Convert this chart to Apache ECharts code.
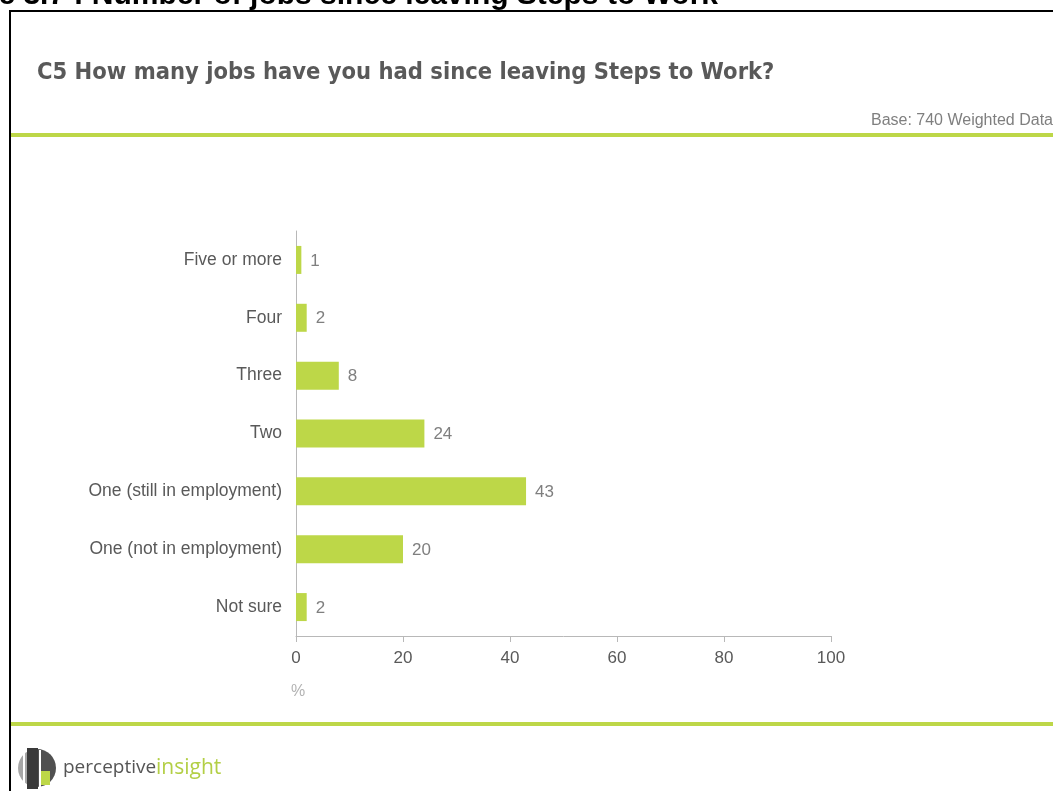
<!DOCTYPE html>
<html>
<head>
<meta charset="utf-8">
<script src="https://cdn.jsdelivr.net/npm/echarts@6/dist/echarts.min.js"></script>
<style>
  html, body { margin: 0; padding: 0; background: #fff; }
  #chart { width: 1053px; height: 791px; }
</style>
</head>
<body>
<div id="chart"></div>
<script>
// Answer categories, bottom to top as the value axis draws them
const categories = ['Not sure', 'One (not in employment)', 'One (still in employment)', 'Two', 'Three', 'Four', 'Five or more'];
// Share of respondents (%)
const values = [2, 20, 43, 24, 8, 2, 1];
// Percentage axis ticks
const xTicks = [0, 20, 40, 60, 80, 100];

const figureTitle = 'Figure 3.7 : Number of jobs since leaving Steps to Work';
const question = 'C5 How many jobs have you had since leaving Steps to Work?';
const baseNote = 'Base: 740 Weighted Data';

const GREEN = '#bdd748';
const FONT = '"Liberation Sans", Arial, sans-serif';
const chart = echarts.init(document.getElementById('chart'), null, { renderer: 'canvas' });

chart.setOption({
  animation: false,
  backgroundColor: '#ffffff',
  grid: { left: 296, right: 222, top: 231, bottom: 155, containLabel: false },
  xAxis: {
    type: 'value',
    min: xTicks[0],
    max: xTicks[xTicks.length - 1],
    interval: 20,
    name: '%',
    nameLocation: 'start',
    nameGap: 0,
    nameTextStyle: { color: '#b3b3b3', fontSize: 16, fontFamily: FONT, align: 'left', verticalAlign: 'top', padding: [48, 0, 0, -5] },
    axisLine: { show: true, lineStyle: { color: '#b8b8b8', width: 1 } },
    axisTick: { show: true, length: 6, lineStyle: { color: '#b8b8b8' } },
    axisLabel: { color: '#595959', fontSize: 17, fontFamily: FONT, margin: 14 },
    splitLine: { show: false }
  },
  yAxis: {
    type: 'category',
    data: categories,
    axisLine: { show: true, lineStyle: { color: '#b8b8b8', width: 1 } },
    axisTick: { show: false },
    axisLabel: { color: '#595959', fontSize: 17.5, fontFamily: FONT, margin: 14 }
  },
  series: [{
    type: 'bar',
    data: values,
    barWidth: 28,
    itemStyle: { color: GREEN },
    label: {
      show: true,
      position: 'right',
      distance: 9,
      color: '#7f7f7f',
      fontSize: 17,
      fontFamily: FONT,
      offset: [0, 1]
    }
  }],
  graphic: [
    // page frame
    { type: 'line', shape: { x1: 10, y1: 11, x2: 1060, y2: 11 }, style: { stroke: '#000', lineWidth: 2 } },
    { type: 'line', shape: { x1: 10, y1: 10, x2: 10, y2: 800 }, style: { stroke: '#000', lineWidth: 2 } },
    // figure caption, partly above the page edge
    { type: 'text', x: 718, y: 11, style: { text: figureTitle, fill: '#000', font: 'bold 30px ' + FONT, textAlign: 'right', textVerticalAlign: 'bottom' } },
    // question heading
    { type: 'text', left: 37, top: 61, style: { text: question, fill: '#595959', font: 'bold 23.5px "DejaVu Sans Condensed", "Liberation Sans Narrow", sans-serif' } },
    { type: 'text', right: 0, top: 113, style: { text: baseNote, fill: '#7f7f7f', font: '16px ' + FONT, textAlign: 'right' } },
    // green rules
    { type: 'rect', shape: { x: 11, y: 133, width: 1060, height: 4 }, style: { fill: GREEN } },
    { type: 'rect', shape: { x: 11, y: 722, width: 1060, height: 4 }, style: { fill: GREEN } },
    // logo mark
    { type: 'group', x: 18, y: 747, children: [
      { type: 'sector', shape: { cx: 19, cy: 21, r: 19, r0: 0, startAngle: Math.PI / 2, endAngle: Math.PI * 1.5 }, style: { fill: '#a6a6a6' } },
      { type: 'sector', shape: { cx: 19, cy: 21, r: 19, r0: 0, startAngle: -Math.PI / 2, endAngle: Math.PI / 2 }, style: { fill: '#505050' } },
      { type: 'rect', shape: { x: 9, y: 1, width: 11, height: 41 }, style: { fill: '#3a3a3a' } },
      { type: 'rect', shape: { x: 21, y: 3, width: 2, height: 37 }, style: { fill: '#ffffff' } },
      { type: 'rect', shape: { x: 23, y: 24, width: 9, height: 14 }, style: { fill: GREEN } },
      { type: 'rect', shape: { x: 5, y: 3, width: 2, height: 36 }, style: { fill: '#ffffff' } }
    ] },
    { type: 'text', left: 63, top: 758, style: { text: 'perceptive', fill: '#555555', font: '19px "Open Sans", sans-serif' } },
    { type: 'text', left: 156, top: 758, style: { text: 'insight', fill: '#b3cf45', font: '21px "Open Sans", sans-serif' } }
  ]
});
</script>
</body>
</html>
